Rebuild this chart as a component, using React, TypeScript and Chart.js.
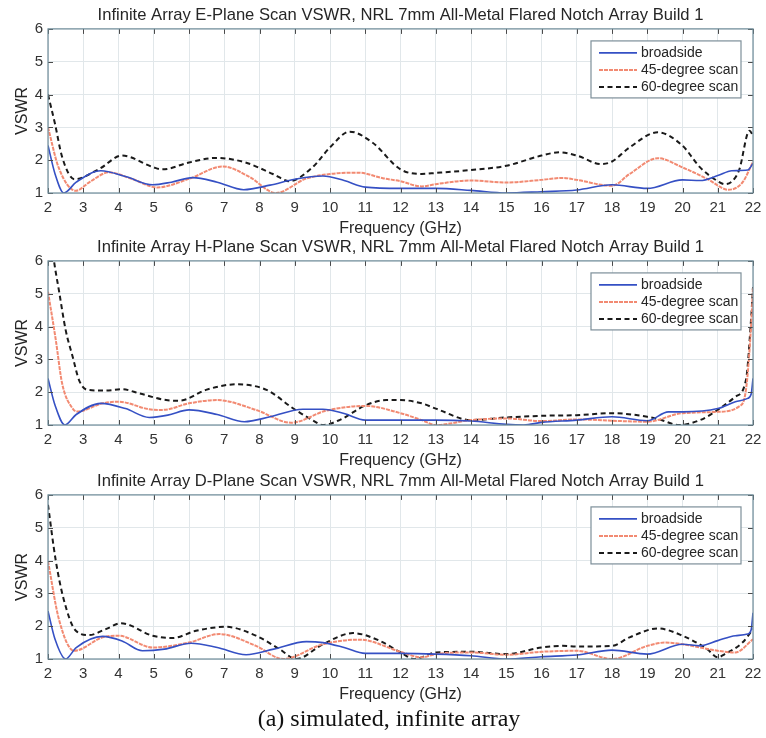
import React, { useEffect, useRef } from 'react';
import { Chart, registerables } from 'chart.js';

Chart.register(...registerables);

const FONT = '"Liberation Sans", Arial, Helvetica, sans-serif';
const TEXT = '#262626';
const GRID = '#e1e7ea';
const FRAME = '#6f8c99';

const SERIES_LABELS = ['broadside', '45-degree scan', '60-degree scan'];
const SERIES_COLORS = ['#3550c4', '#f28a72', '#1a1a1a'];
const SERIES_DASH: number[][] = [[], [4, 1], [5, 3.5]];
const SERIES_WIDTH = [1.6, 2, 2];

const X_TITLE = 'Frequency (GHz)';
const Y_TITLE = 'VSWR';
const CAPTION = '(a) simulated, infinite array';

const TITLE_E = 'Infinite Array E-Plane Scan VSWR, NRL 7mm All-Metal Flared Notch Array Build 1';
const TITLE_H = 'Infinite Array H-Plane Scan VSWR, NRL 7mm All-Metal Flared Notch Array Build 1';
const TITLE_D = 'Infinite Array D-Plane Scan VSWR, NRL 7mm All-Metal Flared Notch Array Build 1';

// ---------- E-plane ----------
const eBroadF = [2, 2.2, 2.45, 2.8, 3.5, 4.2, 4.97, 5.5, 6.1, 6.8, 7.55, 8.3, 9.0, 9.8, 10.4, 11.0, 12, 13, 14, 15, 16, 17, 18, 19, 20, 20.5, 21, 21.4, 21.85, 22];
const eBroadV = [2.45, 1.58, 1.0, 1.33, 1.68, 1.5, 1.25, 1.33, 1.47, 1.33, 1.1, 1.24, 1.42, 1.52, 1.38, 1.18, 1.14, 1.14, 1.08, 1.0, 1.04, 1.09, 1.25, 1.14, 1.4, 1.38, 1.53, 1.68, 1.7, 1.9];

const e45F = [2, 2.3, 2.79, 3.2, 3.73, 4.4, 5.1, 6.0, 6.96, 7.7, 8.47, 9.3, 10.0, 10.8, 11.5, 12.0, 12.6, 13, 14, 15, 16, 16.6, 17, 18, 18.5, 19.3, 20, 20.7, 21.3, 21.7, 22];
const e45V = [3.0, 1.78, 1.07, 1.35, 1.63, 1.42, 1.17, 1.43, 1.81, 1.5, 1.0, 1.43, 1.58, 1.62, 1.45, 1.36, 1.2, 1.27, 1.38, 1.32, 1.4, 1.46, 1.4, 1.22, 1.58, 2.06, 1.78, 1.43, 1.1, 1.32, 1.95];

const e60F = [2, 2.2, 2.4, 2.75, 3.45, 4.1, 5.0, 5.25, 6.0, 6.77, 7.6, 8.38, 8.85, 9.5, 10.0, 10.56, 11.2, 12.0, 12.6, 13, 14, 15, 16, 16.5, 17, 17.7, 18, 18.5, 19.3, 20, 20.5, 21, 21.2, 21.6, 21.9, 22];
const e60V = [4.0, 3.1, 2.1, 1.42, 1.73, 2.14, 1.78, 1.72, 1.93, 2.07, 1.93, 1.58, 1.36, 1.78, 2.39, 2.87, 2.54, 1.72, 1.58, 1.61, 1.7, 1.83, 2.14, 2.24, 2.14, 1.88, 1.96, 2.39, 2.85, 2.44, 1.78, 1.36, 1.27, 1.68, 2.9, 2.75];

// ---------- H-plane ----------
const hBroadF = [2, 2.2, 2.48, 2.8, 3.5, 4.2, 4.87, 5.4, 6.0, 6.8, 7.57, 8.3, 9.23, 9.8, 10.4, 11, 12, 13, 14, 15, 15.5, 16, 17, 18, 19, 19.6, 20, 21, 21.5, 21.85, 21.95, 22];
const hBroadV = [2.42, 1.6, 1.0, 1.32, 1.66, 1.5, 1.23, 1.3, 1.46, 1.32, 1.1, 1.25, 1.48, 1.48, 1.35, 1.15, 1.15, 1.15, 1.12, 1.02, 1.0, 1.08, 1.15, 1.25, 1.13, 1.4, 1.4, 1.5, 1.71, 1.81, 1.95, 2.42];

const h45F = [2, 2.22, 2.4, 2.7, 2.83, 3.55, 4.0, 4.87, 5.25, 6.0, 6.8, 7.9, 8.9, 9.9, 11.03, 12.0, 12.6, 13, 14, 15, 16, 17, 18, 19, 20, 21, 21.6, 21.8, 21.95, 22];
const h45V = [5.06, 3.6, 2.27, 1.5, 1.41, 1.66, 1.71, 1.48, 1.46, 1.66, 1.76, 1.46, 1.07, 1.44, 1.58, 1.36, 1.15, 1.0, 1.15, 1.2, 1.12, 1.17, 1.13, 1.1, 1.36, 1.4, 1.56, 2.07, 4.1, 5.2];

const h60F = [2, 2.17, 2.31, 2.5, 2.7, 2.88, 3.12, 3.64, 4.1, 4.6, 5.35, 5.73, 6.48, 7.34, 8.2, 8.95, 9.5, 9.8, 10.27, 11.03, 11.6, 12.0, 12.6, 13, 14, 15, 16, 17, 18, 19, 19.4, 19.9, 20.5, 21, 21.5, 21.8, 21.95, 22];
const h60V = [7.5, 6.0, 5.1, 3.9, 3.08, 2.37, 2.07, 2.05, 2.09, 1.96, 1.76, 1.74, 2.07, 2.24, 2.07, 1.51, 1.15, 1.0, 1.15, 1.61, 1.76, 1.76, 1.66, 1.5, 1.15, 1.23, 1.28, 1.3, 1.36, 1.25, 1.15, 1.0, 1.15, 1.46, 1.86, 2.37, 4.3, 5.2];

// ---------- D-plane ----------
const dBroadF = [2, 2.2, 2.5, 2.8, 3.55, 4.1, 4.68, 5.3, 6.06, 6.8, 7.62, 8.4, 9.33, 9.8, 10.4, 11, 12, 13, 14, 15, 16, 17, 18, 19, 20, 20.5, 21, 21.5, 21.85, 21.95, 22];
const dBroadV = [2.46, 1.6, 1.0, 1.35, 1.69, 1.55, 1.25, 1.3, 1.48, 1.35, 1.13, 1.3, 1.53, 1.5, 1.35, 1.17, 1.17, 1.15, 1.1, 1.0, 1.07, 1.12, 1.27, 1.15, 1.45, 1.4, 1.56, 1.71, 1.76, 1.9, 2.41];

const d45F = [2, 2.31, 2.74, 3.55, 4.0, 4.97, 6.0, 6.86, 7.9, 8.67, 9.8, 10.84, 12.0, 12.6, 13, 14, 15, 16, 17, 18, 19, 19.5, 20, 21, 21.5, 22];
const d45V = [3.98, 2.21, 1.25, 1.66, 1.71, 1.35, 1.5, 1.76, 1.4, 1.0, 1.45, 1.59, 1.22, 1.05, 1.15, 1.2, 1.13, 1.22, 1.25, 1.0, 1.4, 1.5, 1.45, 1.25, 1.2, 1.6];

const d60F = [2, 2.22, 2.45, 2.79, 3.17, 3.64, 4.07, 4.97, 5.54, 6.2, 7.05, 7.9, 8.57, 9.04, 9.8, 10.65, 11.4, 12.0, 12.4, 13, 14, 15, 16, 16.6, 17, 18, 18.5, 19.3, 20, 20.7, 21, 21.2, 21.7, 22];
const d60V = [5.7, 4.0, 2.8, 1.86, 1.73, 1.91, 2.09, 1.71, 1.64, 1.86, 1.98, 1.71, 1.3, 1.0, 1.45, 1.79, 1.56, 1.2, 1.0, 1.2, 1.22, 1.15, 1.35, 1.4, 1.38, 1.4, 1.66, 1.93, 1.71, 1.3, 1.05, 1.15, 1.5, 1.91];

const X_MIN = 2;
const X_MAX = 22;
const Y_MIN = 1;
const Y_MAX = 6;

const zip = (f: number[], v: number[]) => f.map((x, i) => ({ x, y: v[i] }));

const framePlugin = {
  id: 'frameTicks',
  afterDatasetsDraw(chart: any) {
    const { ctx, chartArea: a, scales } = chart;
    ctx.save();
    ctx.strokeStyle = '#4a4a4a';
    ctx.lineWidth = 1;
    const tl = 5;
    ctx.beginPath();
    scales.x.ticks.forEach((t: any) => {
      const px = Math.round(scales.x.getPixelForValue(t.value)) + 0.5;
      ctx.moveTo(px, a.top);
      ctx.lineTo(px, a.top + tl);
      ctx.moveTo(px, a.bottom);
      ctx.lineTo(px, a.bottom - tl);
    });
    scales.y.ticks.forEach((t: any) => {
      const py = Math.round(scales.y.getPixelForValue(t.value)) + 0.5;
      ctx.moveTo(a.left, py);
      ctx.lineTo(a.left + tl, py);
      ctx.moveTo(a.right, py);
      ctx.lineTo(a.right - tl, py);
    });
    ctx.stroke();
    ctx.strokeStyle = FRAME;
    ctx.lineWidth = 1.2;
    ctx.strokeRect(a.left, a.top, a.right - a.left, a.bottom - a.top);
    ctx.restore();
  },
};

const legendPlugin = {
  id: 'insideLegend',
  afterDraw(chart: any) {
    const { ctx, chartArea: a } = chart;
    const w = 150;
    const h = 57;
    const x0 = a.right - 12 - w;
    const y0 = a.top + 12;
    ctx.save();
    ctx.fillStyle = '#ffffff';
    ctx.fillRect(x0, y0, w, h);
    ctx.strokeStyle = '#7d8f99';
    ctx.lineWidth = 1.2;
    ctx.strokeRect(x0, y0, w, h);
    ctx.font = `14px ${FONT}`;
    ctx.textBaseline = 'middle';
    ctx.textAlign = 'left';
    chart.data.datasets.forEach((ds: any, i: number) => {
      const y = y0 + 12 + i * 17;
      ctx.beginPath();
      ctx.strokeStyle = ds.borderColor;
      ctx.lineWidth = ds.borderWidth;
      ctx.setLineDash(ds.borderDash || []);
      ctx.moveTo(x0 + 8, y);
      ctx.lineTo(x0 + 46, y);
      ctx.stroke();
      ctx.setLineDash([]);
      ctx.fillStyle = TEXT;
      ctx.fillText(ds.label, x0 + 50, y);
    });
    ctx.restore();
  },
};

type PanelProps = { title: string; fs: number[][]; vs: number[][]; top: number };

function Panel({ title, fs, vs, top }: PanelProps) {
  const ref = useRef<HTMLCanvasElement>(null);
  useEffect(() => {
    const tickFont = { family: FONT, size: 15 };
    const axisFont = { family: FONT, size: 16, lineHeight: 1.2 };
    const chart = new Chart(ref.current as HTMLCanvasElement, {
      type: 'line',
      data: {
        datasets: SERIES_LABELS.map((label, i) => ({
          label,
          data: zip(fs[i], vs[i]),
          borderColor: SERIES_COLORS[i],
          borderWidth: SERIES_WIDTH[i],
          borderDash: SERIES_DASH[i],
          pointRadius: 0,
          fill: false,
          cubicInterpolationMode: 'monotone',
        })),
      },
      options: {
        responsive: false,
        animation: false,
        events: [],
        layout: { padding: { left: 0, right: 13, top: 0, bottom: 0 } },
        plugins: {
          legend: { display: false },
          tooltip: { enabled: false },
          title: {
            display: true,
            text: title,
            fullSize: false,
            color: TEXT,
            font: { family: FONT, size: 16.6, weight: 'normal', lineHeight: 1.2 },
            padding: { top: 5, bottom: 4 },
          },
        },
        scales: {
          x: {
            type: 'linear',
            min: X_MIN,
            max: X_MAX,
            afterFit(s: any) {
              s.height = 45;
              s.paddingLeft = 0;
              s.paddingRight = 0;
            },
            ticks: { stepSize: 1, autoSkip: false, maxRotation: 0, padding: 6, color: '#333', font: tickFont },
            grid: { color: GRID, drawTicks: false },
            border: { display: false },
            title: { display: true, text: X_TITLE, color: TEXT, font: axisFont, padding: { top: 0, bottom: 0 } },
          },
          y: {
            type: 'linear',
            min: Y_MIN,
            max: Y_MAX,
            afterFit(s: any) {
              s.width = 48;
              s.paddingTop = 0;
              s.paddingBottom = 0;
            },
            ticks: { stepSize: 1, padding: 5, color: '#333', font: tickFont },
            grid: { color: GRID, drawTicks: false },
            border: { display: false },
            title: { display: true, text: Y_TITLE, color: TEXT, font: axisFont, padding: { top: 13, bottom: 0 } },
          },
        },
      } as any,
      plugins: [framePlugin, legendPlugin],
    });
    return () => chart.destroy();
  }, []);
  return (
    <canvas
      ref={ref}
      width={766}
      height={238}
      style={{ position: 'absolute', left: 0, top, width: 766, height: 238, display: 'block' }}
    />
  );
}

export default function App() {
  return (
    <div style={{ position: 'absolute', left: 0, top: 0, width: 766, height: 738, background: '#ffffff', overflow: 'hidden' }}>
      <Panel title={TITLE_E} fs={[eBroadF, e45F, e60F]} vs={[eBroadV, e45V, e60V]} top={0} />
      <Panel title={TITLE_H} fs={[hBroadF, h45F, h60F]} vs={[hBroadV, h45V, h60V]} top={232} />
      <Panel title={TITLE_D} fs={[dBroadF, d45F, d60F]} vs={[dBroadV, d45V, d60V]} top={466} />
      <div
        style={{
          position: 'absolute',
          left: 0,
          width: 778,
          top: 704,
          textAlign: 'center',
          fontFamily: '"Liberation Serif", "Times New Roman", serif',
          fontSize: 24,
          lineHeight: '28px',
          color: '#111',
          whiteSpace: 'nowrap',
        }}
      >
        {CAPTION}
      </div>
    </div>
  );
}
